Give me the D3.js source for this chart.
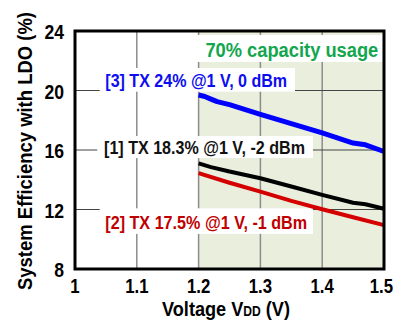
<!DOCTYPE html>
<html>
<head>
<meta charset="utf-8">
<script src="https://cdn.jsdelivr.net/npm/d3@7"></script>
<style>
  body { margin: 0; background: #fff; }
  text { font-family: "Liberation Sans", Arial, sans-serif; font-weight: bold; }
</style>
</head>
<body>
<svg id="chart" width="394" height="320"></svg>
<script>
// data
const xTicks = [1, 1.1, 1.2, 1.3, 1.4, 1.5];
const yTicks = [8, 12, 16, 20, 24];
const gridX = [1.1, 1.2, 1.3, 1.4];
const gridY = [12, 16, 20];

const blueV   = [1.2, 1.21, 1.22, 1.23, 1.25, 1.3, 1.35, 1.4, 1.45, 1.47, 1.5];
const blueEff = [19.7, 19.6, 19.42, 19.25, 19.05, 18.4, 17.78, 17.15, 16.47, 16.35, 15.9];
const blackV   = [1.2, 1.22, 1.25, 1.3, 1.35, 1.4, 1.45, 1.47, 1.5];
const blackEff = [15.1, 14.85, 14.55, 14.1, 13.55, 12.98, 12.45, 12.35, 12.05];
const redV   = [1.2, 1.25, 1.3, 1.35, 1.4, 1.45, 1.5];
const redEff = [14.45, 13.8, 13.2, 12.58, 12.02, 11.48, 10.95];

const svg = d3.select("#chart");
const mLeft = 75, mRight = 384, mTop = 31, mBottom = 269;
const W = 394;

const x = d3.scaleLinear().domain([1, 1.5]).range([mLeft, mRight]);
const y = d3.scaleLinear().domain([8, 24]).range([mBottom, mTop]);

// shaded operating region
svg.append("rect")
    .attr("x", x(1.2)).attr("y", mTop)
    .attr("width", x(1.5) - x(1.2)).attr("height", mBottom - mTop)
    .attr("fill", "#e9eedd");

svg.selectAll("line.gx").data(gridX).enter().append("line")
    .attr("class", "gx")
    .attr("x1", d => x(d)).attr("x2", d => x(d))
    .attr("y1", mTop).attr("y2", mBottom)
    .attr("stroke", "#8c8c8c").attr("stroke-width", 1.5);

svg.selectAll("line.gy").data(gridY).enter().append("line")
    .attr("class", "gy")
    .attr("x1", mLeft).attr("x2", mRight)
    .attr("y1", d => y(d)).attr("y2", d => y(d))
    .attr("stroke", "#444").attr("stroke-width", 1);

// label boxes: [x0, x1, yTop, yBottom] in data units, text start and baseline
const notes = [
  { text: "70% capacity usage", color: "#12a64e", box: [1.197, 1.498, 23.73, 21.92], tx: 1.211, ty: 22.26, w: 173, size: 21 },
  { text: "[3] TX 24% @1 V, 0 dBm", color: "#0d0df0", box: [1.040, 1.356, 21.51, 19.92], tx: 1.049, ty: 20.24, w: 182, size: 19 },
  { text: "[1] TX 18.3% @1 V, -2 dBm", color: "#111", box: [1.036, 1.385, 16.94, 15.46], tx: 1.047, ty: 15.74, w: 201, size: 19 },
  { text: "[2] TX 17.5% @1 V, -1 dBm", color: "#c00000", box: [1.040, 1.385, 12.08, 10.36], tx: 1.049, ty: 10.70, w: 202, size: 19 }
];

svg.selectAll("rect.box").data(notes).enter().append("rect")
    .attr("class", "box")
    .attr("x", d => x(d.box[0])).attr("width", d => x(d.box[1]) - x(d.box[0]))
    .attr("y", d => y(d.box[2])).attr("height", d => y(d.box[3]) - y(d.box[2]))
    .attr("fill", "#fff");

const line = d3.line().x(d => x(d[0])).y(d => y(d[1]));
const series = [
  { v: blackV, e: blackEff, color: "#000", width: 4 },
  { v: redV, e: redEff, color: "#d40000", width: 4 },
  { v: blueV, e: blueEff, color: "#0000ff", width: 5 }
];
svg.selectAll("path.s").data(series).enter().append("path")
    .attr("class", "s")
    .attr("d", d => line(d.v.map((v, i) => [v, d.e[i]])))
    .attr("fill", "none")
    .attr("stroke", d => d.color)
    .attr("stroke-width", d => d.width)
    .attr("stroke-linejoin", "round");

// squeeze a text horizontally so it is w pixels wide (the source uses a narrow face)
function squeeze(g, w) {
    const t = g.select("text");
    const len = t.node().getComputedTextLength();
    t.attr("transform", "scale(" + (w / len) + ",1)");
}

svg.selectAll("g.note").data(notes).enter().append("g")
    .attr("class", "note")
    .attr("transform", d => "translate(" + x(d.tx) + "," + y(d.ty) + ")")
    .each(function(d) {
        const g = d3.select(this);
        g.append("text")
            .attr("fill", d.color)
            .style("font-size", d.size + "px")
            .text(d.text);
        squeeze(g, d.w);
    });

// frame
svg.append("rect")
    .attr("x", mLeft).attr("y", mTop)
    .attr("width", mRight - mLeft).attr("height", mBottom - mTop)
    .attr("fill", "none").attr("stroke", "#000").attr("stroke-width", 3);

// tick labels
const tickScale = 0.84;
svg.selectAll("g.xt").data(xTicks).enter().append("g")
    .attr("class", "xt")
    .each(function(d) {
        const g = d3.select(this);
        const t = g.append("text")
            .attr("text-anchor", "middle")
            .attr("transform", "scale(" + tickScale + ",1)")
            .style("font-size", "20px")
            .text(d);
        const half = t.node().getComputedTextLength() * tickScale / 2;
        const cx = Math.min(x(d), W - 1 - half);
        g.attr("transform", "translate(" + cx + ",293)");
    });

svg.selectAll("g.yt").data(yTicks).enter().append("g")
    .attr("class", "yt")
    .attr("transform", d => "translate(64," + (y(d) + 8) + ")")
    .append("text")
    .attr("text-anchor", "end")
    .attr("transform", "scale(0.88,1)")
    .style("font-size", "20px")
    .text(d => d);

// axis titles
const xg = svg.append("g").attr("transform", "translate(226,316)");
const xt = xg.append("text")
    .attr("text-anchor", "middle")
    .style("font-size", "21px");
xt.append("tspan").text("Voltage V");
xt.append("tspan").style("font-size", "14px").text("DD");
xt.append("tspan").text(" (V)");
squeeze(xg, 128);

const yg = svg.append("g").attr("transform", "translate(32,151) rotate(-90)");
yg.append("text")
    .attr("text-anchor", "middle")
    .style("font-size", "21px")
    .text("System Efficiency with LDO (%)");
squeeze(yg, 278);
</script>
</body>
</html>
